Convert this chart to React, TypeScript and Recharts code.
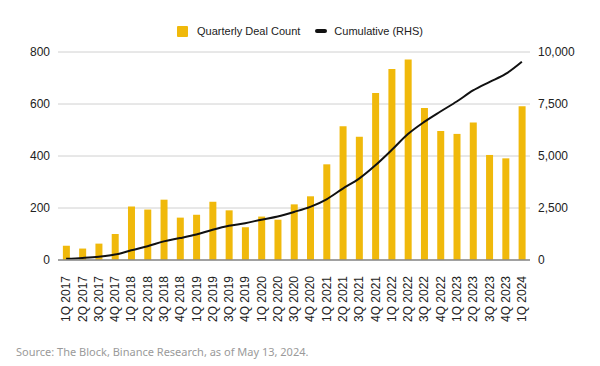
import React from 'react';
import { ComposedChart, Bar, Line, XAxis, YAxis, CartesianGrid } from 'recharts';

// quarters shown on the x axis
const quarters = [
  '1Q 2017', '2Q 2017', '3Q 2017', '4Q 2017',
  '1Q 2018', '2Q 2018', '3Q 2018', '4Q 2018',
  '1Q 2019', '2Q 2019', '3Q 2019', '4Q 2019',
  '1Q 2020', '2Q 2020', '3Q 2020', '4Q 2020',
  '1Q 2021', '2Q 2021', '3Q 2021', '4Q 2021',
  '1Q 2022', '2Q 2022', '3Q 2022', '4Q 2022',
  '1Q 2023', '2Q 2023', '3Q 2023', '4Q 2023',
  '1Q 2024',
];

// deals per quarter (left axis)
const dealCount = [
  55, 44, 63, 100,
  206, 194, 232, 163,
  174, 224, 191, 126,
  167, 155, 214, 245,
  368, 514, 474, 642,
  735, 771, 585, 496,
  485, 529, 404, 391,
  591,
];

// cumulative deals (right axis)
const cumulative = [
  55, 100, 160, 260,
  465, 660, 895, 1055,
  1230, 1455, 1645, 1770,
  1940, 2095, 2310, 2555,
  2920, 3435, 3910, 4550,
  5285, 6055, 6640, 7140,
  7620, 8150, 8555, 8945,
  9535,
];

const leftTicks = [0, 200, 400, 600, 800];
const rightTicks = [0, 2500, 5000, 7500, 10000];

const seriesNames = ['Quarterly Deal Count', 'Cumulative (RHS)'];
const sourceNote = 'Source: The Block, Binance Research, as of May 13, 2024.';

const YELLOW = '#F0B90B';
const FONT = '"Liberation Sans", Arial, sans-serif';

const data = quarters.map((q, i) => ({ quarter: q, deals: dealCount[i], cumulative: cumulative[i] }));

const QuarterTick = (props: any) => {
  const { x, y, payload } = props;
  return (
    <g transform={`translate(${x},${y})`}>
      <text transform="rotate(-90)" x={-8} dy="0.35em" textAnchor="end" fill="#222" fontSize={12} fontFamily={FONT}>
        {payload.value}
      </text>
    </g>
  );
};

export default function App() {
  return (
    <div style={{ position: 'fixed', left: 0, top: 0, width: 600, height: 366, background: '#fff', fontFamily: FONT }}>
      <div style={{ position: 'absolute', top: 24, left: 0, width: 600, height: 14, display: 'flex', justifyContent: 'center', alignItems: 'center', fontSize: 11, color: '#222' }}>
        <span style={{ display: 'inline-block', width: 11, height: 11, background: YELLOW, borderRadius: 1, marginRight: 9 }} />
        <span>{seriesNames[0]}</span>
        <span style={{ display: 'inline-block', width: 12, height: 4, background: '#111', borderRadius: 2, marginLeft: 15, marginRight: 7 }} />
        <span>{seriesNames[1]}</span>
      </div>
      <ComposedChart
        width={600}
        height={330}
        data={data}
        margin={{ top: 52, right: 0, bottom: 10, left: 0 }}
        barCategoryGap="30%"
        style={{ position: 'absolute', top: 0, left: 0 }}
      >
        <CartesianGrid vertical={false} stroke="#d0d0d0" yAxisId="left" />
        <XAxis
          dataKey="quarter"
          interval={0}
          height={60}
          tick={<QuarterTick />}
          tickLine={false}
          axisLine={{ stroke: '#8a8a8a', strokeWidth: 1.5 }}
        />
        <YAxis
          yAxisId="left"
          width={58}
          domain={[0, 800]}
          ticks={leftTicks}
          axisLine={false}
          tickLine={false}
          tick={{ fill: '#222', fontSize: 12, fontFamily: FONT }}
        />
        <YAxis
          yAxisId="right"
          orientation="right"
          width={70}
          domain={[0, 10000]}
          ticks={rightTicks}
          axisLine={false}
          tickLine={false}
          tickFormatter={(v: number) => v.toLocaleString('en-US')}
          tick={{ fill: '#222', fontSize: 12, fontFamily: FONT, textAnchor: 'start' }}
        />
        <Bar yAxisId="left" dataKey="deals" name={seriesNames[0]} fill={YELLOW} isAnimationActive={false} />
        <Line
          yAxisId="right"
          dataKey="cumulative"
          name={seriesNames[1]}
          type="monotone"
          stroke="#111"
          strokeWidth={2}
          dot={false}
          isAnimationActive={false}
        />
      </ComposedChart>
      <div style={{ position: 'absolute', left: 16, top: 344, fontSize: 11, color: '#9a9a9a', fontFamily: '"Noto Sans", sans-serif' }}>
        {sourceNote}
      </div>
    </div>
  );
}
